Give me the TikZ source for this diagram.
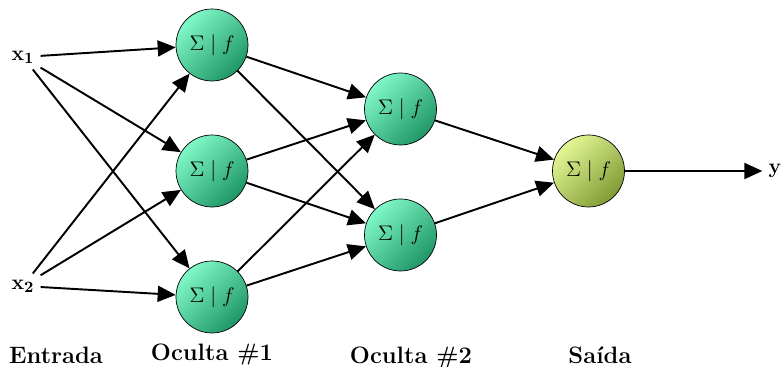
\documentclass[tikz,border=0pt]{standalone}
\usetikzlibrary{arrows.meta}

\definecolor{hidlight}{RGB}{128,248,200}
\definecolor{hiddark}{RGB}{30,150,102}
\definecolor{outlight}{RGB}{228,247,150}
\definecolor{outdark}{RGB}{128,155,52}

\begin{document}
\begin{tikzpicture}
 \tikzset{neuron/.style = {draw, thin, circle, minimum size=1.44cm, inner sep=0pt, font=\fontsize{13}{15}\selectfont, top color=hidlight, bottom color=hiddark, shading angle=45}}
 \tikzset{outneuron/.style = {neuron, top color=outlight, bottom color=outdark, shading angle=45}}
 \tikzset{wire/.style = {line width=1.1pt, -{Triangle[length=3.6mm,width=3.2mm]}}}
 \tikzset{signal/.style = {font=\fontsize{13}{15}\selectfont}}
 \tikzset{layer/.style = {anchor=base, inner sep=0pt, font=\fontsize{13.5}{16}\selectfont\bfseries}}
 \def\sumf{$\Sigma\mid f$}

 \useasboundingbox (0,0) rectangle (15.64,7.34);

 % entradas
 \node[signal] (x1) at (0.46,6.2) {$\mathbf{x_1}$};
 \node[signal] (x2) at (0.46,1.62) {$\mathbf{x_2}$};

 % camadas
 \node[neuron] (h1a) at (4.24,6.44) {\sumf};
 \node[neuron] (h1b) at (4.24,3.92) {\sumf};
 \node[neuron] (h1c) at (4.24,1.40) {\sumf};
 \node[neuron] (h2a) at (8.01,5.16) {\sumf};
 \node[neuron] (h2b) at (8.01,2.64) {\sumf};
 \node[outneuron] (out) at (11.77,3.92) {\sumf};
 \node[signal] (y) at (15.5,3.92) {$\mathbf{y}$};

 \draw[wire] (x1) -- (h1a);
 \draw[wire] (x1) -- (h1b);
 \draw[wire] (x1) -- (h1c);
 \draw[wire] (x2) -- (h1a);
 \draw[wire] (x2) -- (h1b);
 \draw[wire] (x2) -- (h1c);

 \draw[wire] (h1a) -- (h2a);
 \draw[wire] (h1a) -- (h2b);
 \draw[wire] (h1b) -- (h2a);
 \draw[wire] (h1b) -- (h2b);
 \draw[wire] (h1c) -- (h2a);
 \draw[wire] (h1c) -- (h2b);

 \draw[wire] (h2a) -- (out);
 \draw[wire] (h2b) -- (out);
 \draw[wire] (out) -- (y);

 % rotulos
 \node[layer] (l0) at (1.12,0.06) {Entrada};
 \node[layer] (l1) at (4.24,0.12) {Oculta \#1};
 \node[layer] (l2) at (8.22,0.06) {Oculta \#2};
 \node[layer] (l3) at (12.0,0.06) {Saída};

\end{tikzpicture}
\end{document}
